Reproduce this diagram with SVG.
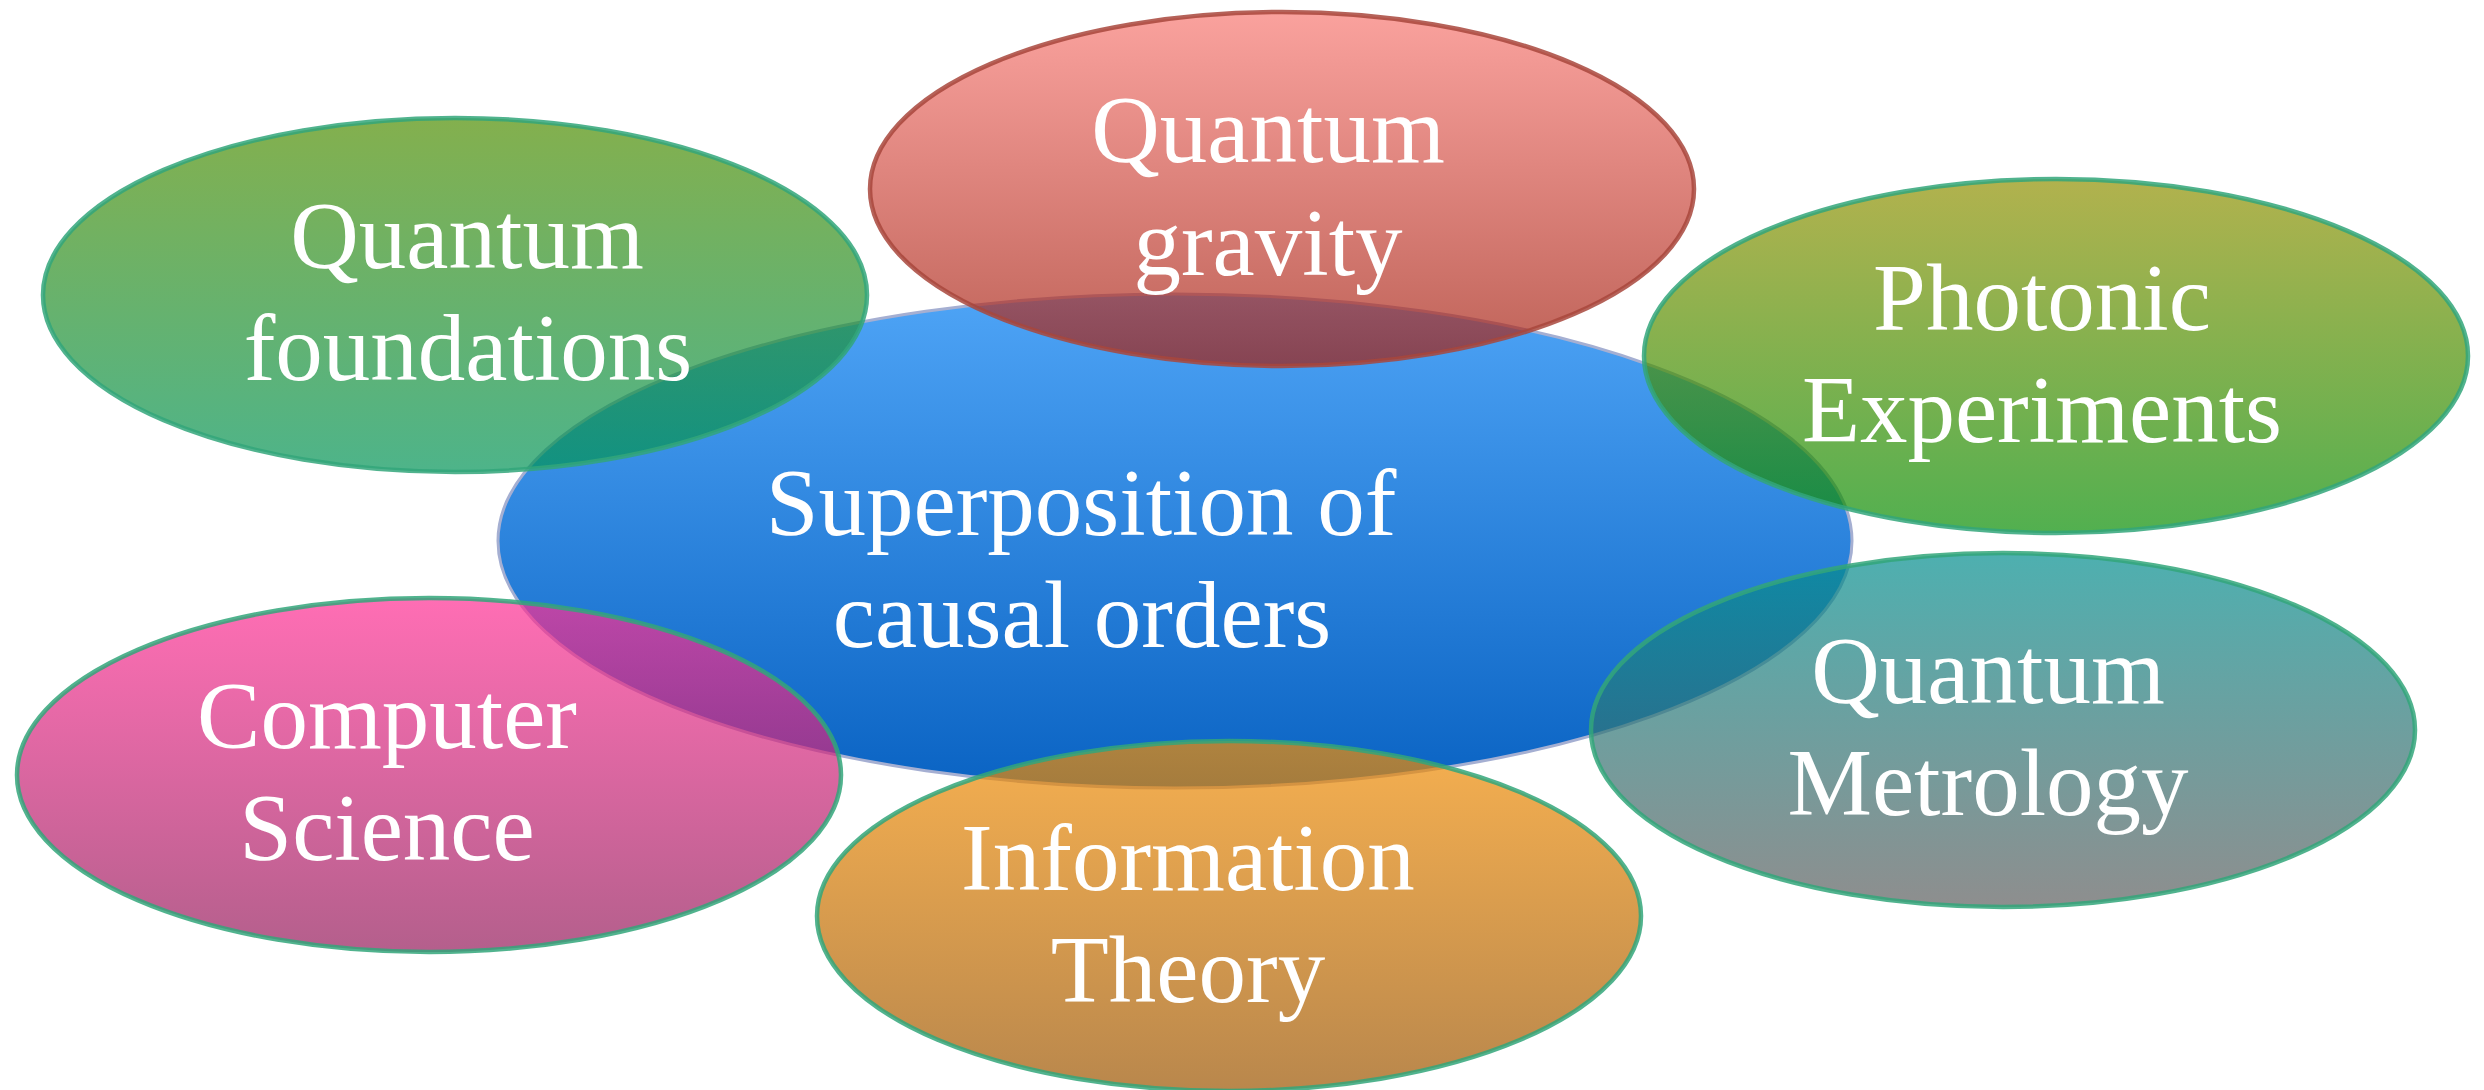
<svg xmlns="http://www.w3.org/2000/svg" width="2484" height="1090" viewBox="0 0 2484 1090">
<defs>
<linearGradient id="gBlue" x1="0" y1="0" x2="0" y2="1"><stop offset="0" stop-color="#4EA4F6"/><stop offset="1" stop-color="#0A63C3"/></linearGradient>
<linearGradient id="gFound" x1="0" y1="0" x2="0" y2="1"><stop offset="0" stop-color="#4F8E02"/><stop offset="1" stop-color="#029458"/></linearGradient>
<linearGradient id="gGrav" x1="0" y1="0" x2="0" y2="1"><stop offset="0" stop-color="#F87A74"/><stop offset="1" stop-color="#A21F10"/></linearGradient>
<linearGradient id="gPhot" x1="0" y1="0" x2="0" y2="1"><stop offset="0" stop-color="#919102"/><stop offset="1" stop-color="#088E05"/></linearGradient>
<linearGradient id="gMetr" x1="0" y1="0" x2="0" y2="1"><stop offset="0" stop-color="#028E8E"/><stop offset="1" stop-color="#5E5E5E"/></linearGradient>
<linearGradient id="gCS" x1="0" y1="0" x2="0" y2="1"><stop offset="0" stop-color="#FF3094"/><stop offset="1" stop-color="#941B5B"/></linearGradient>
<linearGradient id="gInfo" x1="0" y1="0" x2="0" y2="1"><stop offset="0" stop-color="#F28E05"/><stop offset="1" stop-color="#9B5400"/></linearGradient>
</defs>
<style>
.sat{fill-opacity:0.7;stroke:#33A67A;stroke-opacity:0.85;stroke-width:4.5}
.grav{stroke:#A8473C}
.ctr{stroke:#A5AFD2;stroke-width:3}
text{font-family:"Liberation Serif","Times New Roman",serif;font-size:95px;fill:#FFFFFF;text-anchor:middle}
</style>
<g id="connectors"/>
<g id="center">
<ellipse class="ctr" cx="1175" cy="541" rx="677" ry="247" fill="url(#gBlue)"/>
<text x="1081" y="535">Superposition of</text>
<text x="1082" y="647">causal orders</text>
</g>
<g id="foundations">
<ellipse class="sat" cx="455" cy="295" rx="412" ry="177" fill="url(#gFound)"/>
<text x="467" y="268">Quantum</text>
<text x="468" y="380">foundations</text>
</g>
<g id="gravity">
<ellipse class="sat grav" cx="1282" cy="189" rx="412" ry="177" fill="url(#gGrav)"/>
<text x="1268" y="162">Quantum</text>
<text x="1268" y="275">gravity</text>
</g>
<g id="photonic">
<ellipse class="sat" cx="2056" cy="356" rx="412" ry="177" fill="url(#gPhot)"/>
<text x="2042" y="330">Photonic</text>
<text x="2042" y="442">Experiments</text>
</g>
<g id="metrology">
<ellipse class="sat" cx="2003" cy="730" rx="412" ry="177" fill="url(#gMetr)"/>
<text x="1988" y="703">Quantum</text>
<text x="1988" y="815">Metrology</text>
</g>
<g id="computer">
<ellipse class="sat" cx="429" cy="775" rx="412" ry="177" fill="url(#gCS)"/>
<text x="387" y="748">Computer</text>
<text x="387" y="860">Science</text>
</g>
<g id="information">
<ellipse class="sat" cx="1229" cy="916" rx="412" ry="175" fill="url(#gInfo)"/>
<text x="1188" y="890">Information</text>
<text x="1188" y="1002">Theory</text>
</g>
</svg>
